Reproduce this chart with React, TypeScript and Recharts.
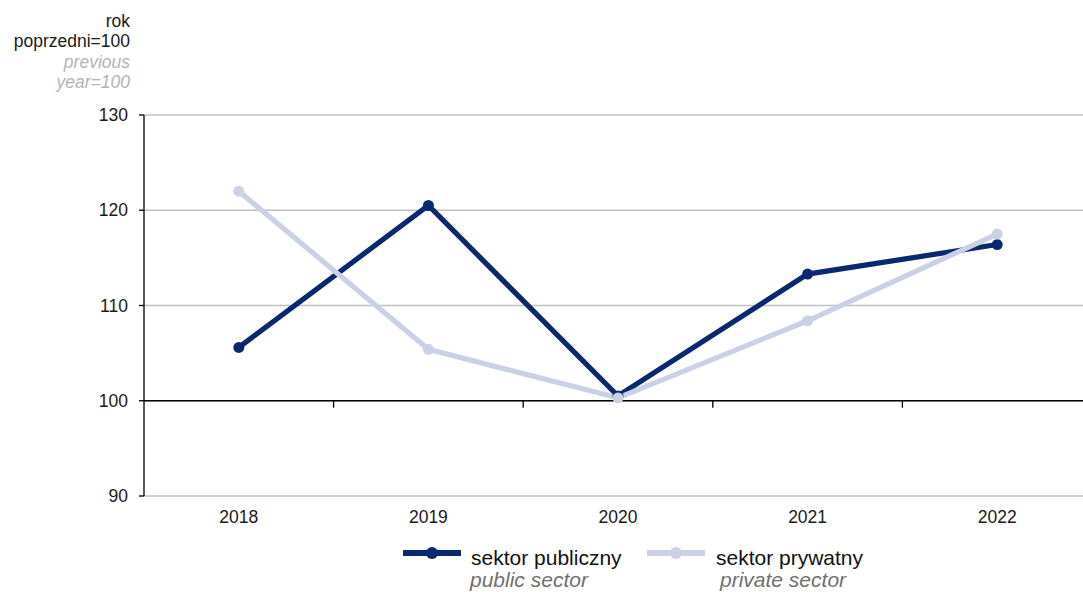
import React from "react";
import {
  LineChart,
  Line,
  XAxis,
  YAxis,
  CartesianGrid,
  ReferenceLine,
} from "recharts";

const years = ["2018", "2019", "2020", "2021", "2022"];
const publicSector = [105.6, 120.5, 100.5, 113.3, 116.4];
const privateSector = [122.0, 105.4, 100.3, 108.4, 117.5];
const yTicks = [90, 100, 110, 120, 130];

const publicColor = "#0a2870";
const privateColor = "#cbd1e5";
const font = "'Liberation Sans', Arial, sans-serif";

const chartData = years.map((year, i) => ({
  x: i,
  year,
  publicSector: publicSector[i],
  privateSector: privateSector[i],
}));

// category boundaries, where the small ticks on the 100 line sit
const bandEdges = years.map((_, i) => i + 0.5);

const legendItems = [
  { name: "sektor publiczny", sub: "public sector", color: publicColor, left: 403, textLeft: 471, subShift: -1 },
  { name: "sektor prywatny", sub: "private sector", color: privateColor, left: 647, textLeft: 716, subShift: 4 },
];

export default function App() {
  return (
    <div
      style={{
        position: "absolute",
        left: 0,
        top: 0,
        width: 1083,
        height: 592,
        overflow: "hidden",
        background: "#fff",
        fontFamily: font,
      }}
    >
      <div
        style={{
          position: "absolute",
          left: 0,
          top: 11,
          width: 130,
          textAlign: "right",
          fontSize: 17.5,
          lineHeight: "20.3px",
        }}
      >
        <div style={{ color: "#1a1a1a" }}>rok</div>
        <div style={{ color: "#1a1a1a" }}>poprzedni=100</div>
        <div style={{ color: "#b4b4b4", fontStyle: "italic" }}>previous</div>
        <div style={{ color: "#b4b4b4", fontStyle: "italic" }}>year=100</div>
      </div>

      <LineChart
        width={1100}
        height={592}
        data={chartData}
        margin={{ top: 115, right: 8, bottom: 66, left: 0 }}
      >
        <CartesianGrid vertical={false} stroke="#c0c0c0" strokeWidth={1.5} />
        <XAxis
          type="number"
          dataKey="x"
          domain={[-0.5, years.length - 0.5]}
          ticks={years.map((_, i) => i)}
          tickFormatter={(i: number) => years[i]}
          interval={0}
          axisLine={false}
          tickLine={false}
          tickSize={0}
          tickMargin={15}
          height={30}
          tick={{ fill: "#1a1a1a", fontSize: 17.5, fontFamily: font }}
        />
        <YAxis
          domain={[90, 130]}
          ticks={yTicks}
          interval={0}
          width={144}
          tickSize={5}
          tickMargin={11}
          axisLine={{ stroke: "#000", strokeWidth: 1.3 }}
          tickLine={{ stroke: "#000", strokeWidth: 1.3 }}
          tick={{ fill: "#1a1a1a", fontSize: 17.5, fontFamily: font }}
        />
        <ReferenceLine y={100} stroke="#000" strokeWidth={1.3} />
        {bandEdges.map((e) => (
          <ReferenceLine
            key={e}
            segment={[
              { x: e, y: 100 },
              { x: e, y: 99.27 },
            ]}
            stroke="#000"
            strokeWidth={1.3}
          />
        ))}
        <Line
          dataKey="publicSector"
          stroke={publicColor}
          strokeWidth={5.2}
          dot={{ r: 5.5, fill: publicColor, stroke: publicColor, strokeWidth: 0 }}
          activeDot={false}
          isAnimationActive={false}
        />
        <Line
          dataKey="privateSector"
          stroke={privateColor}
          strokeWidth={5.2}
          dot={{ r: 5.5, fill: privateColor, stroke: privateColor, strokeWidth: 0 }}
          activeDot={false}
          isAnimationActive={false}
        />
      </LineChart>

      {legendItems.map((item) => (
        <div key={item.name}>
          <svg
            style={{ position: "absolute", left: item.left, top: 545 }}
            width={58}
            height={16}
          >
            <line x1={0} x2={58} y1={8} y2={8} stroke={item.color} strokeWidth={6} />
            <circle cx={29} cy={8} r={6} fill={item.color} />
          </svg>
          <div
            style={{
              position: "absolute",
              left: item.textLeft,
              top: 547,
              fontSize: 21,
              lineHeight: "22px",
              whiteSpace: "nowrap",
            }}
          >
            <div style={{ color: "#111" }}>{item.name}</div>
            <div style={{ color: "#707070", fontStyle: "italic", marginLeft: item.subShift }}>
              {item.sub}
            </div>
          </div>
        </div>
      ))}
    </div>
  );
}
